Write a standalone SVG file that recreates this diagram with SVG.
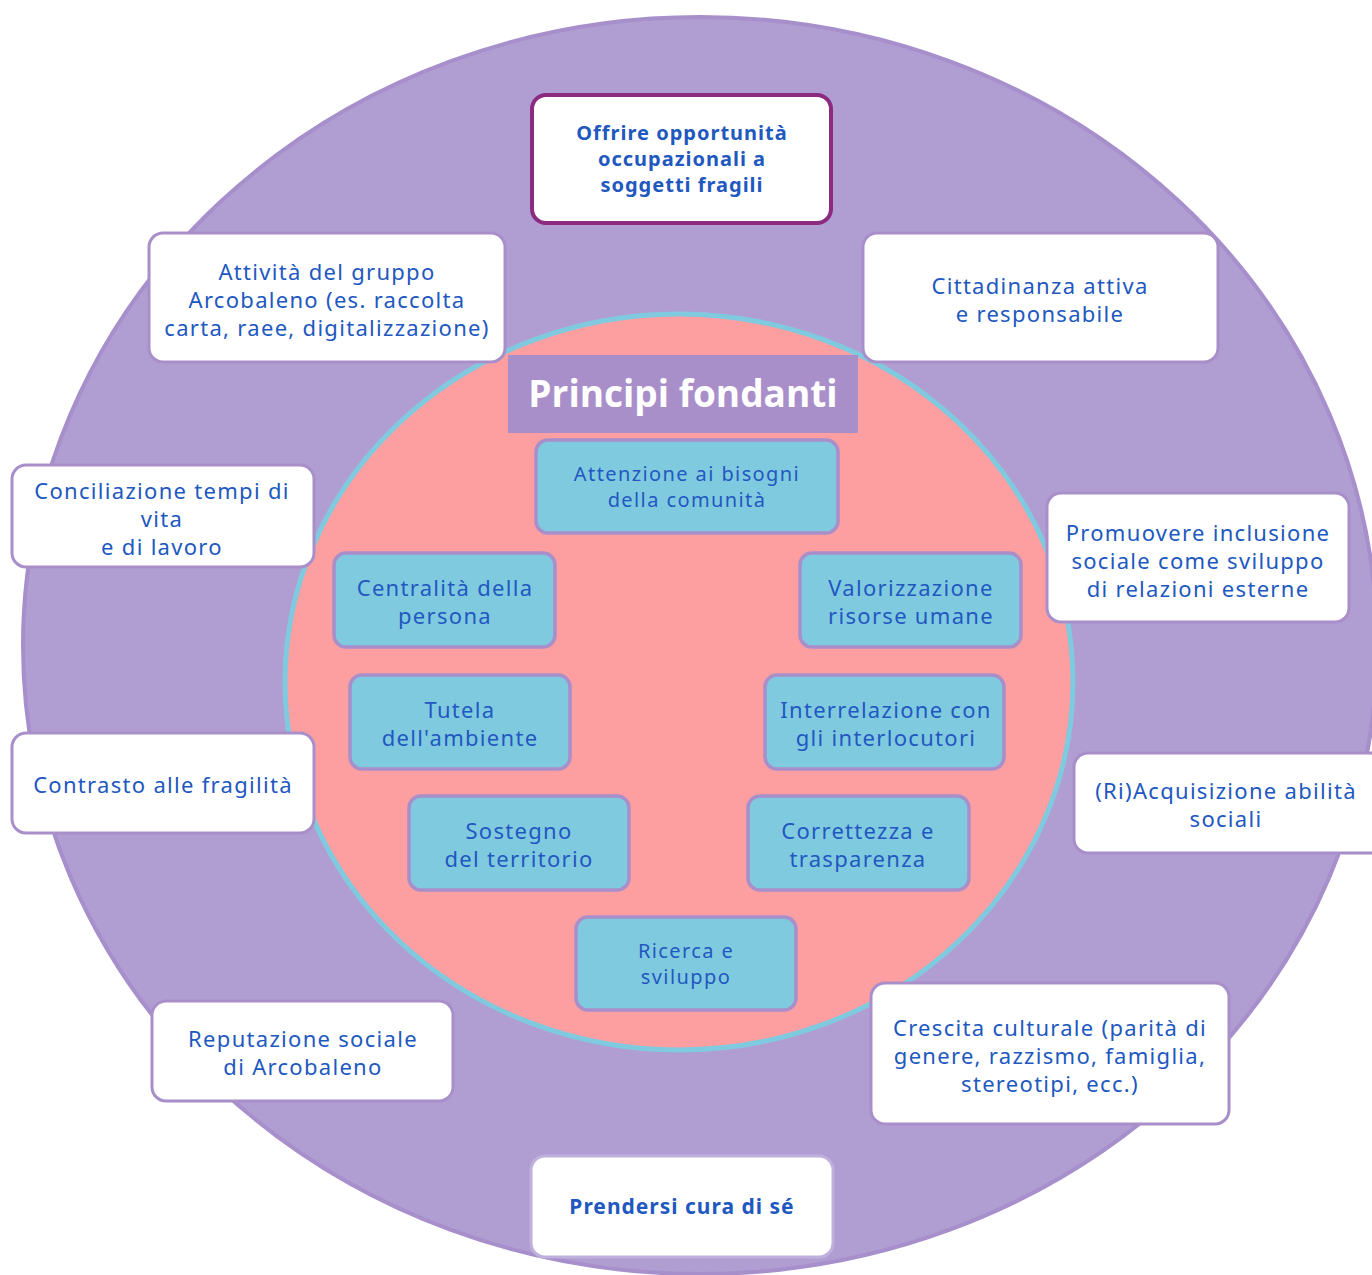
<svg xmlns="http://www.w3.org/2000/svg" width="1372" height="1275" viewBox="0 0 1372 1275">
<style>
.bg{fill:#ffffff}
.outer{fill:#b09dd1;stroke:#a68fcb;stroke-width:4}
.inner{fill:#fd9ea1;stroke:#80cae0;stroke-width:5}
.title{fill:#a98fca}
.titletxt{font-family:"Open Sans","Noto Sans",sans-serif;font-weight:700;font-size:37px;fill:#ffffff;text-anchor:middle}
.wbox{fill:#ffffff;stroke:#a98fca;stroke-width:3}
.wbox2{fill:#ffffff;stroke:#c0b0de;stroke-width:3}
.key{fill:#ffffff;stroke:#8b2a7f;stroke-width:4}
.cbox{fill:#80cae0;stroke:#a98fca;stroke-width:3.5}
.t{font-family:"Noto Sans",sans-serif;font-size:22px;letter-spacing:1.3px;fill:#2158c0;text-anchor:middle}
.ts{font-family:"Noto Sans",sans-serif;font-size:20px;letter-spacing:1.4px;fill:#2158c0;text-anchor:middle}
.tb{font-family:"Noto Sans",sans-serif;font-size:20px;letter-spacing:1px;font-weight:700;fill:#2158c0;text-anchor:middle}
.tb2{font-family:"Noto Sans",sans-serif;font-size:21px;letter-spacing:1px;font-weight:700;fill:#2158c0;text-anchor:middle}
</style>
<rect class="bg" x="0" y="0" width="1372" height="1275"/>
<ellipse class="outer" cx="700" cy="645.5" rx="677" ry="628.5"/>
<ellipse class="inner" cx="679" cy="682" rx="394" ry="368"/>
<g id="title">
<rect class="title" x="508" y="355" width="350" height="78"/>
<text class="titletxt" x="683" y="407">Principi fondanti</text>
</g>
<g id="connectors"></g>
<g id="n-offrire">
<rect class="key" x="532" y="95" width="299" height="128" rx="14"/>
<text class="tb" x="682" y="140">Offrire opportunità</text>
<text class="tb" x="682" y="166">occupazionali a</text>
<text class="tb" x="682" y="192">soggetti fragili</text>
</g>
<g id="n-attivita">
<rect class="wbox" x="149" y="233" width="356" height="129" rx="14"/>
<text class="t" x="327" y="280">Attività del gruppo</text>
<text class="t" x="327" y="308">Arcobaleno (es. raccolta</text>
<text class="t" x="327" y="336">carta, raee, digitalizzazione)</text>
</g>
<g id="n-cittadinanza">
<rect class="wbox" x="863" y="233" width="355" height="129" rx="14"/>
<text class="t" x="1040" y="294">Cittadinanza attiva</text>
<text class="t" x="1040" y="322">e responsabile</text>
</g>
<g id="n-conciliazione">
<rect class="wbox" x="12" y="465" width="302" height="102" rx="14"/>
<text class="t" x="162" y="499">Conciliazione tempi di</text>
<text class="t" x="162" y="527">vita</text>
<text class="t" x="162" y="555">e di lavoro</text>
</g>
<g id="n-promuovere">
<rect class="wbox" x="1047" y="493" width="302" height="129" rx="14"/>
<text class="t" x="1198" y="541">Promuovere inclusione</text>
<text class="t" x="1198" y="569">sociale come sviluppo</text>
<text class="t" x="1198" y="597">di relazioni esterne</text>
</g>
<g id="n-contrasto">
<rect class="wbox" x="12" y="733" width="302" height="100" rx="14"/>
<text class="t" x="163" y="793">Contrasto alle fragilità</text>
</g>
<g id="n-riacquisizione">
<rect class="wbox" x="1074" y="753" width="310" height="100" rx="14"/>
<text class="t" x="1226" y="799">(Ri)Acquisizione abilità</text>
<text class="t" x="1226" y="827">sociali</text>
</g>
<g id="n-reputazione">
<rect class="wbox" x="152" y="1001" width="301" height="100" rx="14"/>
<text class="t" x="303" y="1047">Reputazione sociale</text>
<text class="t" x="303" y="1075">di Arcobaleno</text>
</g>
<g id="n-crescita">
<rect class="wbox" x="871" y="983" width="358" height="141" rx="14"/>
<text class="t" x="1050" y="1036">Crescita culturale (parità di</text>
<text class="t" x="1050" y="1064">genere, razzismo, famiglia,</text>
<text class="t" x="1050" y="1092">stereotipi, ecc.)</text>
</g>
<g id="n-prendersi">
<rect class="wbox2" x="531" y="1156" width="302" height="101" rx="14"/>
<text class="tb2" x="682" y="1214">Prendersi cura di sé</text>
</g>
<g id="p-attenzione">
<rect class="cbox" x="536" y="440" width="302" height="93" rx="12"/>
<text class="ts" x="687" y="481">Attenzione ai bisogni</text>
<text class="ts" x="687" y="507">della comunità</text>
</g>
<g id="p-centralita">
<rect class="cbox" x="334" y="553" width="221" height="94" rx="12"/>
<text class="t" x="445" y="596">Centralità della</text>
<text class="t" x="445" y="624">persona</text>
</g>
<g id="p-valorizzazione">
<rect class="cbox" x="800" y="553" width="221" height="94" rx="12"/>
<text class="t" x="911" y="596">Valorizzazione</text>
<text class="t" x="911" y="624">risorse umane</text>
</g>
<g id="p-tutela">
<rect class="cbox" x="350" y="675" width="220" height="94" rx="12"/>
<text class="t" x="460" y="718">Tutela</text>
<text class="t" x="460" y="746">dell'ambiente</text>
</g>
<g id="p-interrelazione">
<rect class="cbox" x="765" y="675" width="239" height="94" rx="12"/>
<text class="t" x="886" y="718">Interrelazione con</text>
<text class="t" x="886" y="746">gli interlocutori</text>
</g>
<g id="p-sostegno">
<rect class="cbox" x="409" y="796" width="220" height="94" rx="12"/>
<text class="t" x="519" y="839">Sostegno</text>
<text class="t" x="519" y="867">del territorio</text>
</g>
<g id="p-correttezza">
<rect class="cbox" x="748" y="796" width="221" height="94" rx="12"/>
<text class="t" x="858" y="839">Correttezza e</text>
<text class="t" x="858" y="867">trasparenza</text>
</g>
<g id="p-ricerca">
<rect class="cbox" x="576" y="917" width="220" height="93" rx="12"/>
<text class="ts" x="686" y="958">Ricerca e</text>
<text class="ts" x="686" y="984">sviluppo</text>
</g>
</svg>
